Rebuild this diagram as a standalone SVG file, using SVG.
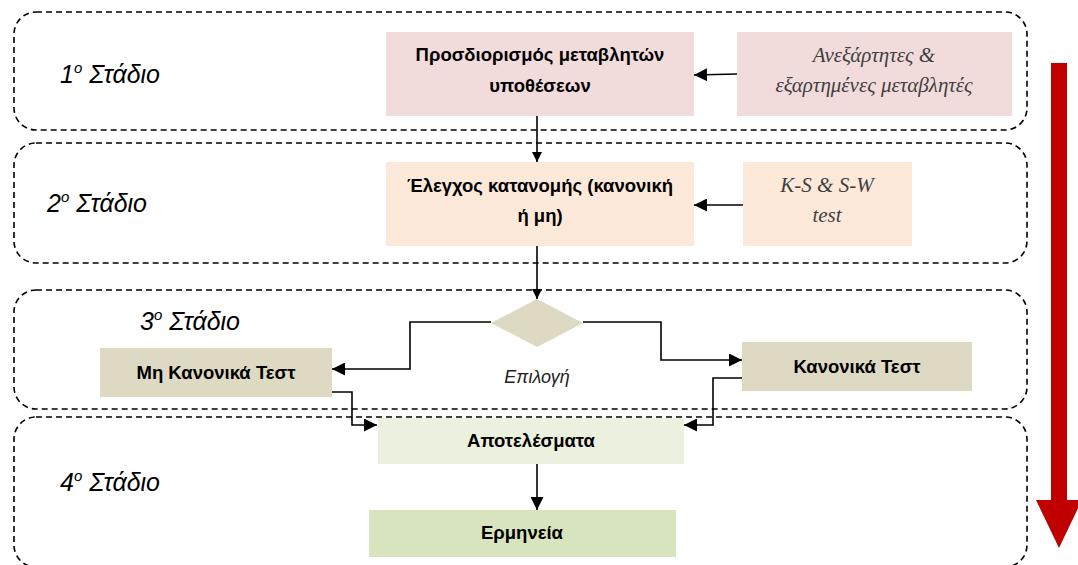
<svg xmlns="http://www.w3.org/2000/svg" width="1078" height="565" viewBox="0 0 1078 565">
<style>
.stage{fill:none;stroke:#000;stroke-width:1.6;stroke-dasharray:6 4}
.lbl{font-family:"Liberation Sans",Arial,sans-serif;font-style:italic;font-size:25px;fill:#000}
.sup{font-size:15px}
.bt{font-family:"Liberation Sans",Arial,sans-serif;font-weight:bold;font-size:18.5px;fill:#000;text-anchor:middle}
.it{font-family:"Liberation Serif","Times New Roman",serif;font-style:italic;font-size:21px;fill:#404040;text-anchor:middle}
.con{fill:none;stroke:#000;stroke-width:1.6}
</style>
<defs>
<marker id="ah" viewBox="0 0 10 10" refX="10" refY="5" markerWidth="10" markerHeight="10" markerUnits="userSpaceOnUse" orient="auto">
<path d="M0,0 L10,5 L0,10 z" fill="#000"/>
</marker>
<marker id="ahb" viewBox="0 0 10 10" refX="10" refY="5" markerWidth="13" markerHeight="13" markerUnits="userSpaceOnUse" orient="auto">
<path d="M0,0 L10,5 L0,10 z" fill="#000"/>
</marker>
</defs>
<g id="stages">
<rect class="stage" x="14" y="12" width="1013" height="118" rx="22"/>
<rect class="stage" x="14" y="143" width="1013" height="120" rx="22"/>
<rect class="stage" x="14" y="290" width="1013" height="119" rx="22"/>
<rect class="stage" x="14" y="417" width="1013" height="150" rx="22"/>
<text class="lbl" x="60" y="83">1<tspan class="sup" dy="-10">o</tspan><tspan dy="10"> Στάδιο</tspan></text>
<text class="lbl" x="47" y="212">2<tspan class="sup" dy="-10">o</tspan><tspan dy="10"> Στάδιο</tspan></text>
<text class="lbl" x="140" y="330">3<tspan class="sup" dy="-10">o</tspan><tspan dy="10"> Στάδιο</tspan></text>
<text class="lbl" x="60" y="491">4<tspan class="sup" dy="-10">o</tspan><tspan dy="10"> Στάδιο</tspan></text>
</g>
<g id="n-proc">
<rect x="386" y="32" width="308" height="84" fill="#f2dcdb"/>
<text class="bt" x="540" y="61">Προσδιορισμός μεταβλητών</text>
<text class="bt" x="540" y="92">υποθέσεων</text>
</g>
<g id="n-vars">
<rect x="737" y="32" width="275" height="84" fill="#f2dcdb"/>
<text class="it" x="874" y="62">Ανεξάρτητες &amp;</text>
<text class="it" x="874" y="92">εξαρτημένες μεταβλητές</text>
</g>
<g id="n-dist">
<rect x="386" y="162" width="308" height="84" fill="#fde9d9"/>
<text class="bt" x="540" y="192">Έλεγχος κατανομής (κανονική</text>
<text class="bt" x="540" y="222">ή μη)</text>
</g>
<g id="n-ks">
<rect x="743" y="162" width="169" height="84" fill="#fde9d9"/>
<text class="it" x="827" y="192">K-S &amp; S-W</text>
<text class="it" x="827" y="222">test</text>
</g>
<g id="n-choice">
<polygon points="537,299 583,323 537,347 491,323" fill="#ddd9c3"/>
<text x="537" y="383" font-family="Liberation Sans,Arial,sans-serif" font-style="italic" font-size="18" fill="#222" text-anchor="middle">Επιλογή</text>
</g>
<g id="n-nonnormal">
<rect x="100" y="348" width="232" height="49" fill="#ddd9c3"/>
<text class="bt" x="216" y="379">Μη Κανονικά Τεστ</text>
</g>
<g id="n-normal">
<rect x="742" y="342" width="230" height="49" fill="#ddd9c3"/>
<text class="bt" x="857" y="373">Κανονικά Τεστ</text>
</g>
<g id="n-results">
<rect x="378" y="418" width="306" height="46" fill="#ebf1de"/>
<text class="bt" x="531" y="447">Αποτελέσματα</text>
</g>
<g id="n-interp">
<rect x="369" y="510" width="307" height="47" fill="#d7e4bd"/>
<text class="bt" x="522" y="539">Ερμηνεία</text>
</g>
<g id="connectors">
<path class="con" d="M737,74 L694,75" marker-end="url(#ahb)"/>
<path class="con" d="M537,116 L537,162" marker-end="url(#ah)"/>
<path class="con" d="M743,205 L694,205" marker-end="url(#ahb)"/>
<path class="con" d="M537,246 L537,299" marker-end="url(#ah)"/>
<path class="con" d="M491,322 L410,322 L410,369 L332,369" marker-end="url(#ahb)"/>
<path class="con" d="M583,322 L661,322 L661,360 L742,360" marker-end="url(#ahb)"/>
<path class="con" d="M332,392 L352,392 L352,425 L377,425" marker-end="url(#ahb)"/>
<path class="con" d="M742,378 L713,378 L713,425 L684,425" marker-end="url(#ahb)"/>
<path class="con" d="M537,464 L537,510" marker-end="url(#ahb)"/>
</g>
<g id="flow-arrow">
<polygon points="1051,63 1067,63 1067,500 1082,500 1059,548 1036,500 1051,500" fill="#c00000"/>
</g>
</svg>
